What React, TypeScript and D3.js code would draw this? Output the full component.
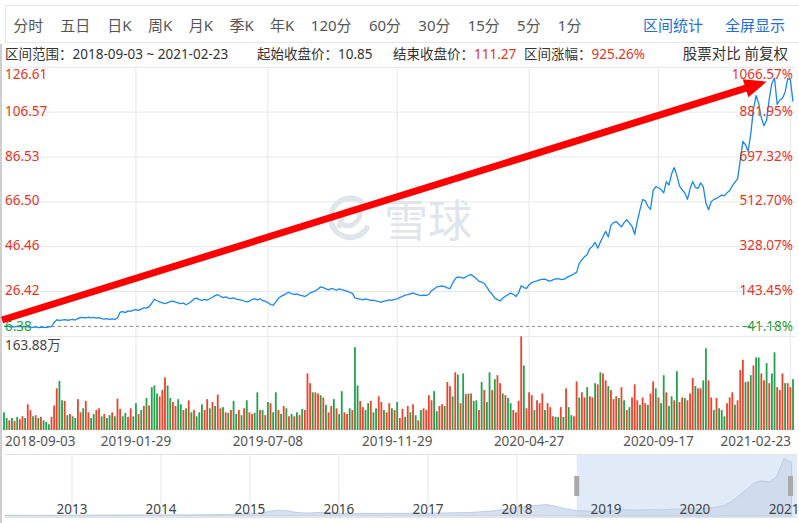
import React from 'react';
import * as d3 from 'd3';

const W = 799;
const H = 523;

const tabs = ["分时", "五日", "日K", "周K", "月K", "季K", "年K", "120分", "60分", "30分", "15分", "5分", "1分"];
const links = ["区间统计", "全屏显示"];

const rangeText = "区间范围：2018-09-03 ~ 2021-02-23";
const startText = "起始收盘价：10.85";
const endLabel = "结束收盘价：";
const endValue = "111.27";
const chgLabel = "区间涨幅：";
const chgValue = "925.26%";
const rightText = "股票对比 前复权";

const priceTicks = [126.61, 106.57, 86.53, 66.50, 46.46, 26.42, 6.38];
const priceTickLabels = ["126.61", "106.57", "86.53", "66.50", "46.46", "26.42", "6.38"];
const pctTickLabels = ["1066.57%", "881.95%", "697.32%", "512.70%", "328.07%", "143.45%", "-41.18%"];
const startPrice = 10.85;
const volMax = 163.88;
const volLabel = "163.88万";

const dateLabels = ["2018-09-03", "2019-01-29", "2019-07-08", "2019-11-29", "2020-04-27", "2020-09-17", "2021-02-23"];
const dateIdx = [0, 50, 100, 149, 199, 248, 298];

// closing prices (every ~2 trading days) 2018-09-03 .. 2021-02-23
const prices = [
  10.85, 10.9, 10.7, 10.8, 10.6, 10.9, 10.8, 10.7, 10.9, 10.6, 10.5, 10.4, 10.6, 10.3, 10.4, 10.5, 10.3, 10.6, 10.8, 12.6,
  13.8, 13.5, 13.7, 13.9, 13.6, 13.8, 14.0, 13.7, 14.3, 14.9,
  14.8, 14.6, 15.0, 14.7, 14.9, 14.5, 14.8, 14.3, 14.1, 14.3,
  14.0, 14.2, 14.0, 14.6, 17.2, 17.4, 17.0, 17.8, 17.6, 18.1,
  18.3, 18.0, 18.6, 19.2, 19.0, 19.7, 21.2, 23.0, 22.3, 21.8,
  21.4, 21.0, 21.5, 21.9, 22.1, 21.7, 21.4, 21.0, 21.3, 20.5,
  21.2, 22.0, 23.1, 23.5, 22.8, 22.5, 22.9, 22.6, 23.2, 23.9,
  24.6, 25.0, 24.3, 23.7, 24.0, 23.5, 23.3, 23.6, 23.0, 22.8,
  22.6, 22.2, 21.8, 22.1, 22.9, 23.1, 22.7, 23.2, 22.5, 22.0,
  21.5, 20.6, 20.3, 21.8, 23.4, 24.3, 24.8, 25.6, 26.0, 25.5,
  25.1, 25.4, 24.8, 24.6, 24.2, 24.9, 25.8, 26.3, 26.7, 27.6,
  28.5, 28.2, 27.6, 27.2, 27.8, 27.5, 27.0, 27.6, 27.3, 26.9,
  26.6, 26.0, 25.6, 23.6, 23.3, 23.0, 22.7, 23.1, 22.8, 22.5,
  22.6, 22.2, 21.9, 21.7, 22.1, 22.4, 22.7, 22.5, 22.9, 23.1,
  23.8, 24.2, 24.8, 25.0, 25.4, 25.8, 25.3, 24.9, 24.6, 24.8,
  24.7, 25.1, 26.8, 27.5, 28.5, 28.7, 29.0, 28.6, 28.1, 27.7,
  30.2, 32.1, 33.0, 32.7, 32.4, 32.9, 33.6, 34.0, 33.1, 32.2,
  31.0, 30.6, 30.0, 28.4, 26.5, 25.2, 23.5, 22.8, 22.2, 23.4,
  24.3, 25.0, 25.7, 25.2, 24.2, 25.8, 29.0, 28.2, 27.8, 29.5,
  30.4, 30.9, 31.2, 31.6, 31.9, 32.0, 31.4, 31.1, 31.6, 32.1,
  32.2, 31.8, 31.9, 32.4, 33.2, 33.6, 34.4, 35.0, 39.0, 40.6,
  42.0, 43.0, 45.6, 46.6, 48.4, 45.8, 48.5, 51.0, 53.3, 50.8,
  56.0, 57.2, 57.7, 56.5, 55.3, 57.2, 58.5, 57.0, 55.6, 52.0,
  57.8, 62.9, 67.5, 67.0, 64.5, 63.2, 71.5, 73.3, 72.8, 72.0,
  70.5, 75.5, 74.0, 79.0, 81.8, 78.2, 73.5, 71.8, 70.5, 67.6,
  72.4, 75.6, 73.0, 72.5, 75.0, 73.2, 66.0, 63.0, 66.5, 67.6,
  68.0, 68.8, 69.5, 69.2, 70.6, 71.5, 73.6, 75.3, 76.8, 85.0,
  93.5, 92.0, 89.0, 97.0, 107.8, 114.0, 110.5, 104.0, 100.5, 103.0,
  112.5, 119.5, 121.8, 110.0, 112.0, 112.8, 115.5, 121.5, 121.0, 111.27,
];

// volume (万) per bar
const volumes = [
  31, 21, 17, 21, 16, 23, 19, 24, 21, 45,
  35, 24, 26, 21, 23, 17, 14, 10, 23, 43,
  73, 86, 52, 51, 26, 28, 24, 21, 54, 31,
  38, 51, 31, 21, 28, 35, 38, 24, 28, 21,
  26, 31, 24, 55, 37, 24, 30, 23, 38, 24,
  47, 28, 35, 42, 56, 43, 75, 78, 64, 59,
  70, 92, 78, 56, 49, 42, 54, 45, 35, 38,
  52, 31, 35, 24, 31, 45, 35, 54, 38, 49,
  42, 62, 38, 40, 31, 30, 35, 51, 28, 35,
  26, 38, 52, 31, 28, 30, 66, 35, 35, 26,
  49, 47, 31, 66, 35, 28, 42, 38, 24, 28,
  24, 31, 26, 37, 35, 99, 82, 66, 66, 64,
  61, 57, 44, 31, 42, 54, 38, 28, 68, 31,
  28, 38, 35, 145, 78, 51, 40, 35, 47, 51,
  31, 38, 59, 49, 35, 31, 47, 38, 35, 49,
  21, 37, 23, 42, 31, 45, 26, 17, 35, 38,
  35, 61, 52, 68, 33, 42, 45, 42, 84, 77,
  59, 101, 97, 47, 99, 63, 64, 64, 51, 52,
  35, 84, 70, 49, 101, 70, 89, 96, 82, 64,
  61, 56, 47, 35, 31, 51, 163.88, 113, 38, 66,
  61, 35, 52, 47, 64, 35, 47, 40, 24, 23,
  23, 40, 23, 73, 40, 26, 24, 85, 57, 66,
  57, 75, 59, 57, 82, 80, 101, 99, 87, 77,
  70, 54, 59, 56, 75, 52, 35, 40, 57, 80,
  52, 44, 57, 47, 44, 64, 85, 73, 57, 47,
  96, 66, 42, 59, 52, 103, 49, 57, 56, 52,
  64, 91, 77, 73, 73, 87, 143, 87, 57, 35,
  56, 38, 35, 24, 47, 57, 66, 44, 52, 105,
  123, 84, 85, 96, 113, 127, 127, 99, 87, 117,
  82, 99, 136, 75, 70, 99, 82, 82, 75, 89,
];

// r = up day (red), g = down day (green)
const volDir =
  "ggrgrgrrgr" + "rgrgrgggrr" + "rggrgrggrr" + "grrggrrgrg" + "grgrrggrrg" +
  "grgrgrgggr" + "rrggrrggrg" + "rgrgggrrgr" + "grrgrgrggr" + "grgrrggrgr" +
  "grggrgrgrg" + "rgrgrrrgrr" + "grgrrgrggr" + "rgrggrrggr" + "ggrrgrrgrg" +
  "rrgrgrgrgr" + "rrrggrrgrr" + "grgrgrgrgg" + "rgrggrgrrg" + "rggrrrrgrr" +
  "rgrrrgrrrg" + "grgrggrrgr" + "rgrrgrgrrg" + "rrrgrgrgrr" + "rgrrgrrgrg" +
  "grggrgrrgr" + "rrgrrggrrg" + "rgggrrrgrr" + "rgrgrggrrg" + "rggrrrgrrg";

// navigator: monthly closes from 2012-04 to 2021-02
const navValues = [
  1.5, 1.6, 1.5, 1.4, 1.3, 1.4, 1.3, 1.2, 1.4,
  1.5, 1.6, 1.7, 1.6, 1.8, 1.9, 1.8, 2.0, 2.2, 2.1, 2.0, 2.2,
  2.1, 2.3, 2.2, 2.4, 2.3, 2.5, 2.6, 2.8, 3.0, 3.2, 3.5, 4.0,
  4.5, 5.5, 7.5, 10.5, 12.0, 11.0, 8.0, 6.5, 6.0, 7.0, 7.5, 7.0,
  5.5, 5.0, 5.3, 5.5, 5.2, 5.0, 5.4, 5.6, 5.3, 5.5, 5.8, 5.6,
  5.8, 6.0, 6.3, 6.5, 6.8, 7.0, 7.5, 8.5, 9.5, 11.0, 13.0, 15.0,
  18.0, 19.0, 21.0, 22.0, 23.5, 21.0, 17.0, 14.0, 11.0, 10.5, 9.5, 9.0,
  9.5, 10.5, 12.0, 12.5, 12.0, 12.5, 13.0, 12.5, 13.0, 14.0, 14.5, 15.0,
  16.0, 15.5, 16.5, 18.0, 22.0, 30.0, 42.0, 55.0, 68.0, 72.0, 70.0, 80.0,
  118.0, 110.0,
];
const navStart = new Date(2012, 3, 1);
const navEnd = new Date(2021, 1, 23);
const rangeStart = new Date(2018, 8, 3);
const navYears = [2013, 2014, 2015, 2016, 2017, 2018, 2019, 2020, 2021];

const FONT = '"Noto Sans", "Noto Sans CJK SC", sans-serif';
const RED = '#e8341f';
const GREEN = '#1ea03c';
const GRID = '#e6e7ee';
const WM = '#e0e4eb';

function textW(s: string, fs: number) {
  let w = 0;
  for (const ch of s) w += /[\u3000-\u9fff\uff00-\uffef]/.test(ch) ? fs : fs * 0.58;
  return w;
}

export default function App() {
  const n = prices.length;
  const x = d3.scaleLinear().domain([0, n - 1]).range([4, 793]);
  const y = d3.scaleLinear().domain([priceTicks[6], priceTicks[0]]).range([336.4, 67.3]);
  const yv = d3.scaleLinear().domain([0, volMax]).range([430, 336.4]);
  const line = d3.line<number>().x((_, i) => x(i)).y((d) => y(d)).curve(d3.curveLinear);

  const xs = d3.scaleTime().domain([navStart, navEnd]).range([5, 797]);
  const ys = d3.scaleLinear().domain([0, 125]).range([516, 455]);
  const navArea = d3
    .area<number>()
    .x((_, i) => xs(d3.timeMonth.offset(navStart, i)))
    .y0(516)
    .y1((d) => ys(d));

  // tabs layout
  const tabFs = 15;
  let cx = 13.3;
  const tabPos = tabs.map((t) => {
    const p = cx;
    cx += textW(t, tabFs) + 17;
    return p;
  });

  // arrow (annotation) from first bar to peak region
  const ax0 = x(0) - 2, ay0 = y(13.7);
  const ax1 = x(289), ay1 = y(120.2);
  const dx = ax1 - ax0, dy = ay1 - ay0;
  const len = Math.hypot(dx, dy);
  const ux = dx / len, uy = dy / len;
  const headL = 22, headW = 9.5;
  const bx = ax1 - ux * headL, by = ay1 - uy * headL;
  const nx = -uy, ny = ux;

  const selX = xs(rangeStart);

  return (
    <div style={{ position: 'absolute', left: 0, top: 0 }}>
      <svg width={W} height={H} style={{ display: 'block', background: '#fff' }} fontFamily={FONT}>
        {/* toolbar */}
        <rect x={5.5} y={5.5} width={800} height={37} fill="#fff" stroke="#e4e4e4" />
        {tabs.map((t, i) => (
          <text key={t} x={tabPos[i]} y={30.5} fontSize={tabFs} fill="#555">{t}</text>
        ))}
        <text x={703} y={30.5} fontSize={15} fill="#1f6fd6" textAnchor="end">{links[0]}</text>
        <text x={785} y={30.5} fontSize={15} fill="#1f6fd6" textAnchor="end">{links[1]}</text>

        {/* page left border */}
        <line x1={1} x2={1} y1={44} y2={H} stroke="#cfcfcf" strokeWidth={2} />

        {/* info row */}
        <text x={5} y={59} fontSize={13.5} fill="#333">{rangeText}</text>
        <text x={257} y={59} fontSize={13.5} fill="#333">{startText}</text>
        <text x={393} y={59} fontSize={13.5} fill="#333">{endLabel}<tspan fill={RED}>{endValue}</tspan></text>
        <text x={524} y={59} fontSize={13.5} fill="#333">{chgLabel}<tspan fill={RED}>{chgValue}</tspan></text>
        <text x={788} y={59} fontSize={14.5} fill="#333" textAnchor="end">{rightText}</text>

        {/* grid */}
        {priceTicks.map((v, i) => (
          <line key={'h' + i} x1={4} x2={795} y1={y(v)} y2={y(v)} stroke={GRID} strokeWidth={1} />
        ))}
        {dateIdx.slice(1).map((d, i) => (
          <line key={'v' + i} x1={x(d)} x2={x(d)} y1={67.3} y2={430} stroke={GRID} strokeWidth={1} />
        ))}

        {/* watermark */}
        <g>
          <path d="M 365 205 A 19.5 19.5 0 1 0 368 226" fill="none" stroke={WM} strokeWidth={5.5} />
          <path d="M 339 228 Q 343 205 357 209 Q 364 214 355 223 Q 348 229 341 223" fill="none" stroke={WM} strokeWidth={5} />
          <text x={384} y={237} fontSize={44} fill={WM} fontFamily='"Noto Sans CJK SC", sans-serif'>雪球</text>
        </g>

        {/* baseline at start price */}
        <line x1={4} x2={790} y1={y(startPrice)} y2={y(startPrice)} stroke="#888" strokeDasharray="3,3" strokeWidth={1} />

        {/* volume bars */}
        {volumes.map((v, i) => (
          <rect
            key={'b' + i}
            x={x(i) - 0.9}
            y={yv(v)}
            width={1.8}
            height={430 - yv(v)}
            fill={volDir[i] === 'r' ? '#f0422a' : '#23a24d'}
          />
        ))}

        {/* price line */}
        <path d={line(prices) || ''} fill="none" stroke="#1a87f0" strokeWidth={1.3} strokeLinejoin="round" />

        {/* y labels */}
        {priceTickLabels.map((t, i) => {
          const gy = y(priceTicks[i]);
          const by2 = i === 0 ? gy + 12 : i === priceTicks.length - 1 ? gy - 5 : gy + 3.5;
          const col = i === priceTicks.length - 1 ? GREEN : RED;
          return (
            <g key={'yl' + i}>
              <text x={5} y={by2} fontSize={13.5} fill={col}>{t}</text>
              <text x={793} y={by2} fontSize={13.5} fill={col} textAnchor="end">{pctTickLabels[i]}</text>
            </g>
          );
        })}
        <text x={5} y={349.5} fontSize={13.5} fill="#444">{volLabel}</text>

        {/* date labels */}
        {dateLabels.map((t, i) => (
          <text
            key={'d' + i}
            x={i === 0 ? 5 : i === dateLabels.length - 1 ? 791 : x(dateIdx[i])}
            y={446}
            fontSize={13.5}
            fill="#555"
            textAnchor={i === 0 ? 'start' : i === dateLabels.length - 1 ? 'end' : 'middle'}
          >
            {t}
          </text>
        ))}

        {/* red arrow */}
        <line x1={ax0} y1={ay0} x2={bx + ux * 2} y2={by + uy * 2} stroke="#ff0000" strokeWidth={7} />
        <polygon
          points={`${ax1},${ay1} ${bx + nx * headW},${by + ny * headW} ${bx - nx * headW},${by - ny * headW}`}
          fill="#ff0000"
        />

        {/* navigator */}
        <line x1={5} x2={797} y1={454.5} y2={454.5} stroke="#e2e2e2" />
        <line x1={5} x2={797} y1={517.5} y2={517.5} stroke="#e2e2e2" />
        {navYears.map((yr) => {
          const px = xs(new Date(yr, 0, 1));
          return <line key={'ny' + yr} x1={px} x2={px} y1={455} y2={517} stroke={GRID} />;
        })}
        <rect x={selX} y={455} width={797 - selX} height={62} fill="#dce7f7" opacity={0.85} />
        <path d={navArea(navValues) || ''} fill="#c9d6ea" fillOpacity={0.75} stroke="#b5c5de" strokeWidth={0.8} />
        {navYears.map((yr) => (
          <text key={'nt' + yr} x={xs(new Date(yr, 0, 1))} y={514} fontSize={13.5} fill="#444" textAnchor="middle">
            {yr}
          </text>
        ))}
        <rect x={selX - 2.5} y={476} width={5} height={20} fill="#a9a9a9" />
        <rect x={788} y={476} width={5} height={20} fill="#a9a9a9" />
      </svg>
    </div>
  );
}
